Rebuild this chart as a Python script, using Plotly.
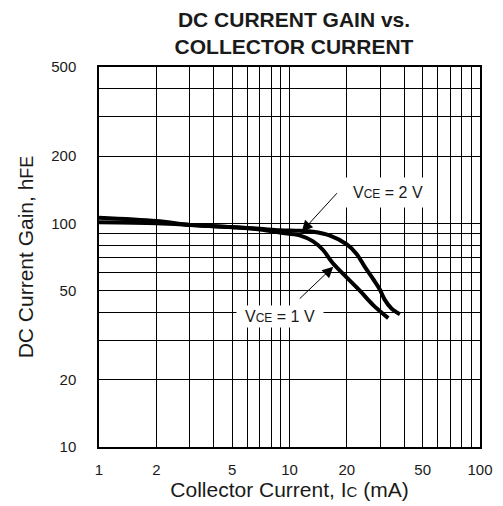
import plotly.graph_objects as go

# ---- data ----
ic_2v = [1, 2, 3, 5, 7, 8.9, 11.3, 13.3, 16.2, 20, 22.5, 24.9, 27.5, 29.7, 31.6, 34.3, 38]
hfe_2v = [106, 102.5, 98.4, 96.2, 94.5, 93.2, 92.6, 91.7, 88.4, 80.5, 73, 63.7, 56.3, 50.9, 45.6, 41.6, 39.2]

ic_1v = [1, 2, 3, 5, 7, 8.9, 11.3, 13.3, 15, 16.9, 20, 23.4, 27.5, 33]
hfe_1v = [101, 100, 98.4, 96, 93.8, 90.9, 88.4, 83.1, 76, 66.3, 57.2, 50, 43.1, 37.7]

x_grid = [1, 2, 3, 4, 5, 6, 7, 8, 9, 10, 20, 30, 40, 50, 60, 70, 80, 90, 100]
x_labels = {1: "1", 2: "2", 5: "5", 10: "10", 20: "20", 50: "50", 100: "100"}
y_grid = [10, 20, 30, 40, 50, 60, 70, 80, 90, 100, 200, 300, 400, 500]
y_labels = {10: "10", 20: "20", 50: "50", 100: "100", 200: "200", 500: "500"}

FONT = "Liberation Sans, Arial, Helvetica, sans-serif"
INK = "#1a1a1a"

fig = go.Figure()
fig.add_trace(go.Scatter(x=ic_2v, y=hfe_2v, mode="lines", name="VCE = 2 V",
                         line=dict(color="black", width=4, shape="spline", smoothing=1)))
fig.add_trace(go.Scatter(x=ic_1v, y=hfe_1v, mode="lines", name="VCE = 1 V",
                         line=dict(color="black", width=4, shape="spline", smoothing=1)))

fig.update_layout(
    width=503, height=506,
    margin=dict(l=99, r=23, t=67, b=59, autoexpand=False),
    paper_bgcolor="white", plot_bgcolor="white",
    showlegend=False,
    font=dict(family=FONT, color=INK),
    title=dict(text="<b>DC CURRENT GAIN vs.<br>COLLECTOR CURRENT</b>",
               x=294 / 503, xanchor="center", y=1 - 27 / 506, yanchor="middle",
               yref="container", font=dict(size=21, family=FONT, color=INK)),
)

fig.update_xaxes(
    type="log", range=[0, 2],
    tickvals=x_grid, ticktext=[x_labels.get(v, "") for v in x_grid],
    ticks="", showgrid=True, gridcolor="black", gridwidth=1.2,
    showline=True, linecolor="black", linewidth=1.5, mirror=True,
    tickfont=dict(size=15, family=FONT, color=INK), ticklabelstandoff=8,
    title=dict(text="Collector Current, I<span style='font-size:15px'>C</span> (mA)",
               font=dict(size=21, family=FONT, color=INK), standoff=4),
    zeroline=False, automargin=False,
)
fig.update_yaxes(
    type="log", range=[1, 2.69897],
    tickvals=y_grid, ticktext=[y_labels.get(v, "") for v in y_grid],
    ticks="", showgrid=True, gridcolor="black", gridwidth=1.2,
    showline=True, linecolor="black", linewidth=1.5, mirror=True,
    tickfont=dict(size=15, family=FONT, color=INK), ticklabelstandoff=18,
    title=dict(text="DC Current Gain, h<span style='font-size:18px'>FE</span>",
               font=dict(size=21, family=FONT, color=INK), standoff=12),
    zeroline=False, automargin=False,
)

# plot-area pixel geometry (for converting label positions to paper coords)
X0, X1, Y0, Y1 = 99.0, 480.0, 67.0, 447.0
def px(xp):
    return (xp - X0) / (X1 - X0)
def py(yp):
    return (Y1 - yp) / (Y1 - Y0)

# labels with white boxes
fig.add_annotation(xref="paper", yref="paper", x=px(388), y=py(192),
                   xanchor="center", yanchor="middle",
                   text="V<span style='font-size:12px'>CE</span> = 2 V",
                   showarrow=False, bgcolor="white", width=84, height=27, borderpad=1,
                   font=dict(size=16, family=FONT, color=INK))
fig.add_annotation(xref="paper", yref="paper", x=px(280), y=py(316),
                   xanchor="center", yanchor="middle",
                   text="V<span style='font-size:12px'>CE</span> = 1 V",
                   showarrow=False, bgcolor="white", width=84, height=19, borderpad=1,
                   font=dict(size=16, family=FONT, color=INK))

# arrows
fig.add_annotation(xref="paper", yref="paper", x=px(301.7), y=py(231.7),
                   ax=36.6, ay=-40, text="", showarrow=True,
                   arrowhead=2, arrowsize=2.2, arrowwidth=1, arrowcolor="black")
fig.add_annotation(xref="paper", yref="paper", x=px(333.3), y=py(266.7),
                   ax=-35, ay=33.3, text="", showarrow=True,
                   arrowhead=2, arrowsize=2.2, arrowwidth=1, arrowcolor="black")

fig.write_html("out.html", config={"displayModeBar": False},
               post_script="document.body.style.margin='0';")
